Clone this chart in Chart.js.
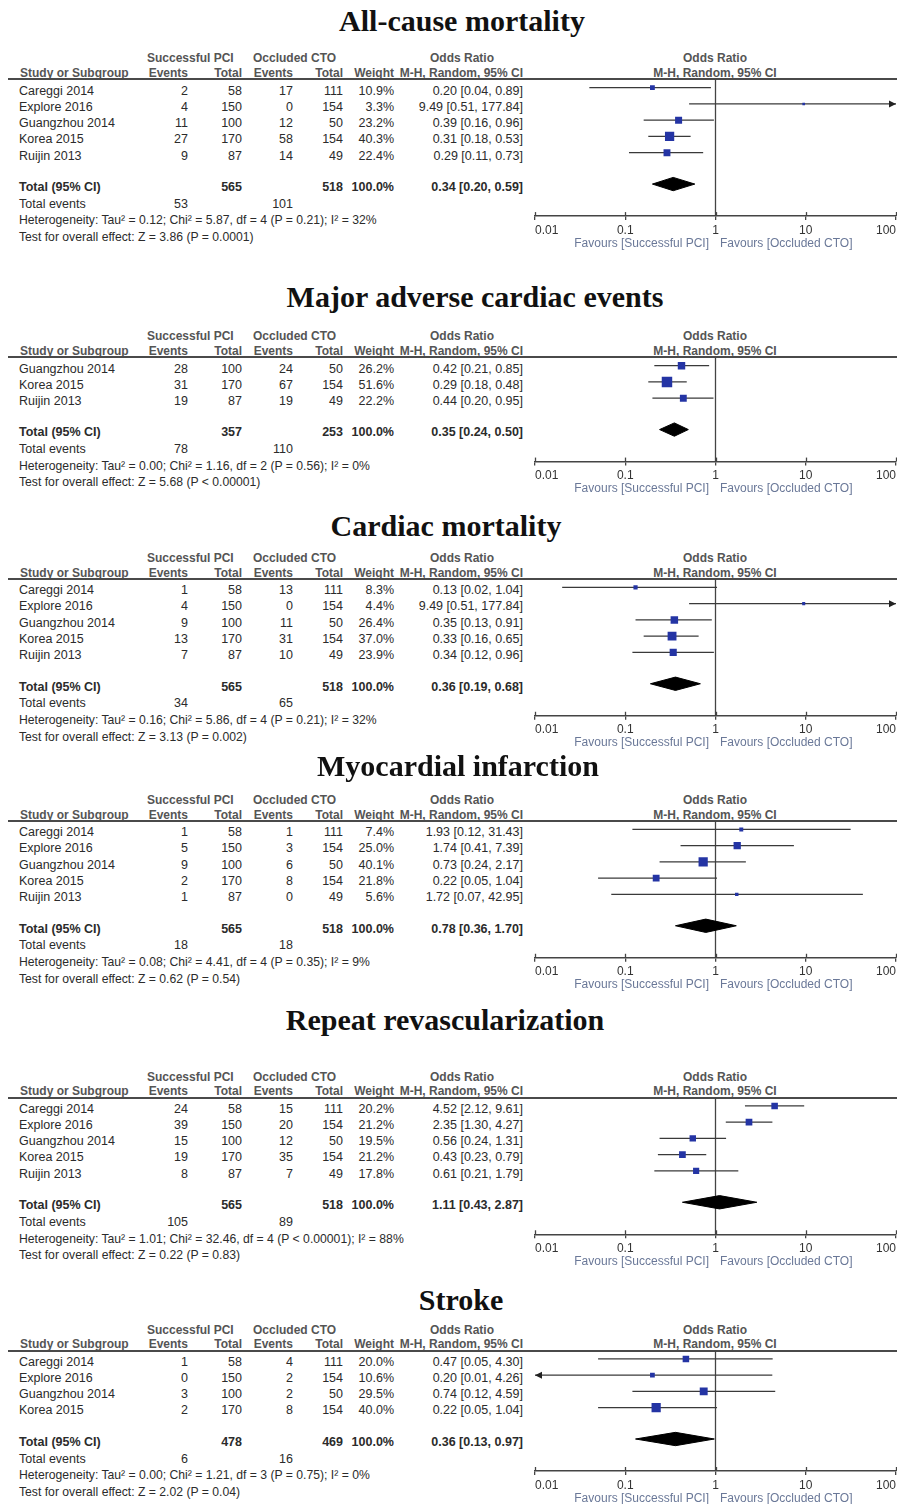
<!DOCTYPE html>
<html><head><meta charset="utf-8">
<script src="https://cdn.jsdelivr.net/npm/chart.js@4.4.1/dist/chart.umd.min.js"></script>
<style>
html,body{margin:0;padding:0;background:#fff;}
body{width:897px;height:1504px;position:relative;overflow:hidden;font-family:"Liberation Sans",Arial,sans-serif;}
.t{position:absolute;white-space:nowrap;font-size:12.5px;line-height:16px;height:16px;color:#2b2b2b;}
.h{font-weight:bold;color:#555;font-size:12px;}
.b{font-weight:bold;}
.s{font-size:12.2px;}
.fav{color:#6a7898;font-size:12px;}
.title{position:absolute;white-space:nowrap;font-family:"Liberation Serif","Times New Roman",serif;font-weight:bold;font-size:30px;line-height:34px;height:34px;color:#111;width:600px;text-align:center;}
.rule{position:absolute;left:8px;width:889px;height:2px;background:#4a4a4a;}
canvas{position:absolute;}
</style></head>
<body>
<script>
// ---------------- DATA ----------------
const titles = ["All-cause mortality","Major adverse cardiac events","Cardiac mortality","Myocardial infarction","Repeat revascularization","Stroke"];
const studies = [
  ["Careggi 2014","Explore 2016","Guangzhou 2014","Korea 2015","Ruijin 2013"],
  ["Guangzhou 2014","Korea 2015","Ruijin 2013"],
  ["Careggi 2014","Explore 2016","Guangzhou 2014","Korea 2015","Ruijin 2013"],
  ["Careggi 2014","Explore 2016","Guangzhou 2014","Korea 2015","Ruijin 2013"],
  ["Careggi 2014","Explore 2016","Guangzhou 2014","Korea 2015","Ruijin 2013"],
  ["Careggi 2014","Explore 2016","Guangzhou 2014","Korea 2015"]
];
const pciEvents = [[2,4,11,27,9],[28,31,19],[1,4,9,13,7],[1,5,9,2,1],[24,39,15,19,8],[1,0,3,2]];
const pciTotals = [[58,150,100,170,87],[100,170,87],[58,150,100,170,87],[58,150,100,170,87],[58,150,100,170,87],[58,150,100,170]];
const ctoEvents = [[17,0,12,58,14],[24,67,19],[13,0,11,31,10],[1,3,6,8,0],[15,20,12,35,7],[4,2,2,8]];
const ctoTotals = [[111,154,50,154,49],[50,154,49],[111,154,50,154,49],[111,154,50,154,49],[111,154,50,154,49],[111,154,50,154]];
const weights = [[10.9,3.3,23.2,40.3,22.4],[26.2,51.6,22.2],[8.3,4.4,26.4,37.0,23.9],[7.4,25.0,40.1,21.8,5.6],[20.2,21.2,19.5,21.2,17.8],[20.0,10.6,29.5,40.0]];
const orEst  = [[0.20,9.49,0.39,0.31,0.29],[0.42,0.29,0.44],[0.13,9.49,0.35,0.33,0.34],[1.93,1.74,0.73,0.22,1.72],[4.52,2.35,0.56,0.43,0.61],[0.47,0.20,0.74,0.22]];
const orLow  = [[0.04,0.51,0.16,0.18,0.11],[0.21,0.18,0.20],[0.02,0.51,0.13,0.16,0.12],[0.12,0.41,0.24,0.05,0.07],[2.12,1.30,0.24,0.23,0.21],[0.05,0.01,0.12,0.05]];
const orHigh = [[0.89,177.84,0.96,0.53,0.73],[0.85,0.48,0.95],[1.04,177.84,0.91,0.65,0.96],[31.43,7.39,2.17,1.04,42.95],[9.61,4.27,1.31,0.79,1.79],[4.30,4.26,4.59,1.04]];
const totalPci = [565,357,565,565,565,478];
const totalCto = [518,253,518,518,518,469];
const totalEst  = [0.34,0.35,0.36,0.78,1.11,0.36];
const totalLow  = [0.20,0.24,0.19,0.36,0.43,0.13];
const totalHigh = [0.59,0.50,0.68,1.70,2.87,0.97];
const eventsPci = [53,78,34,18,105,6];
const eventsCto = [101,110,65,18,89,16];
const heterogeneity = [
  "Heterogeneity: Tau² = 0.12; Chi² = 5.87, df = 4 (P = 0.21); I² = 32%",
  "Heterogeneity: Tau² = 0.00; Chi² = 1.16, df = 2 (P = 0.56); I² = 0%",
  "Heterogeneity: Tau² = 0.16; Chi² = 5.86, df = 4 (P = 0.21); I² = 32%",
  "Heterogeneity: Tau² = 0.08; Chi² = 4.41, df = 4 (P = 0.35); I² = 9%",
  "Heterogeneity: Tau² = 1.01; Chi² = 32.46, df = 4 (P < 0.00001); I² = 88%",
  "Heterogeneity: Tau² = 0.00; Chi² = 1.21, df = 3 (P = 0.75); I² = 0%"
];
const overallEffect = [
  "Test for overall effect: Z = 3.86 (P = 0.0001)",
  "Test for overall effect: Z = 5.68 (P < 0.00001)",
  "Test for overall effect: Z = 3.13 (P = 0.002)",
  "Test for overall effect: Z = 0.62 (P = 0.54)",
  "Test for overall effect: Z = 0.22 (P = 0.83)",
  "Test for overall effect: Z = 2.02 (P = 0.04)"
];
const tickValues = [0.01,0.1,1,10,100];
const tickLabels = ["0.01","0.1","1","10","100"];
const favoursLeft = "Favours [Successful PCI]";
const favoursRight = "Favours [Occluded CTO]";

// ---------------- LAYOUT ----------------
const panelLayout = [
  {L:79.3,  titleY:21,   titleX:462},
  {L:357.3, titleY:297,  titleX:475},
  {L:579,   titleY:526,  titleX:446},
  {L:821,   titleY:766,  titleX:458},
  {L:1097.5,titleY:1020, titleX:445},
  {L:1350.5,titleY:1300, titleX:461}
];
const ROW = 16.25;
const X = {name:19, ev1:188, tot1:242, ev2:293, tot2:343, wt:394, or:523};

function txt(s, x, cy, align, cls) {
  const d = document.createElement('div');
  d.className = 't' + (cls ? ' ' + cls : '');
  d.textContent = s;
  d.style.top = (cy - 8) + 'px';
  if (align === 'l') d.style.left = x + 'px';
  else if (align === 'r') d.style.right = (897 - x) + 'px';
  else { d.style.left = (x - 200) + 'px'; d.style.width = '400px'; d.style.textAlign = 'center'; }
  document.body.appendChild(d);
}
const f2 = v => v.toFixed(2);
const orText = (e, l, h) => f2(e) + ' [' + f2(l) + ', ' + f2(h) + ']';

const arrowPlugin = {
  id: 'forestExtras',
  afterDatasetsDraw(chart) {
    const info = chart.options.plugins.forestExtras;
    const xs = chart.scales.x, ys = chart.scales.y, ctx = chart.ctx;
    ctx.save();
    ctx.fillStyle = '#222';
    info.arrows.forEach(a => {
      const px = xs.getPixelForValue(a.x), py = ys.getPixelForValue(a.y);
      const dir = a.dir;
      ctx.beginPath();
      ctx.moveTo(px, py);
      ctx.lineTo(px - dir * 7, py - 3.5);
      ctx.lineTo(px - dir * 7, py + 3.5);
      ctx.closePath();
      ctx.fill();
    });
    // upward half of axis ticks
    ctx.strokeStyle = '#444';
    ctx.lineWidth = 1.3;
    const ay = chart.chartArea.bottom;
    tickValues.forEach(v => {
      const px = Math.round(xs.getPixelForValue(v)) + 0.5;
      ctx.beginPath();
      ctx.moveTo(px, ay - 4);
      ctx.lineTo(px, ay);
      ctx.stroke();
    });
    ctx.restore();
  }
};

panelLayout.forEach((p, k) => {
  const n = studies[k].length;
  const L = p.L;
  // title
  const t = document.createElement('div');
  t.className = 'title';
  t.textContent = titles[k];
  t.style.left = (p.titleX - 300) + 'px';
  t.style.top = (p.titleY - 17) + 'px';
  document.body.appendChild(t);
  // header
  txt('Successful PCI', 147, L - 21, 'l', 'h');
  txt('Occluded CTO', 253, L - 21, 'l', 'h');
  txt('Odds Ratio', 462, L - 21, 'c', 'h');
  txt('Odds Ratio', 715, L - 21, 'c', 'h');
  txt('Study or Subgroup', 20, L - 6.5, 'l', 'h');
  txt('Events', X.ev1, L - 6.5, 'r', 'h');
  txt('Total', X.tot1, L - 6.5, 'r', 'h');
  txt('Events', X.ev2, L - 6.5, 'r', 'h');
  txt('Total', X.tot2, L - 6.5, 'r', 'h');
  txt('Weight', X.wt, L - 6.5, 'r', 'h');
  txt('M-H, Random, 95% CI', X.or, L - 6.5, 'r', 'h');
  txt('M-H, Random, 95% CI', 715, L - 6.5, 'c', 'h');
  const rule = document.createElement('div');
  rule.className = 'rule';
  rule.style.top = (L - 1) + 'px';
  document.body.appendChild(rule);
  // rows
  for (let i = 0; i < n; i++) {
    const cy = L + 11.2 + i * ROW;
    txt(studies[k][i], X.name, cy, 'l');
    txt(String(pciEvents[k][i]), X.ev1, cy, 'r');
    txt(String(pciTotals[k][i]), X.tot1, cy, 'r');
    txt(String(ctoEvents[k][i]), X.ev2, cy, 'r');
    txt(String(ctoTotals[k][i]), X.tot2, cy, 'r');
    txt(weights[k][i].toFixed(1) + '%', X.wt, cy, 'r');
    txt(orText(orEst[k][i], orLow[k][i], orHigh[k][i]), X.or, cy, 'r');
  }
  const T = L + 11.2 + (n + 0.93) * ROW;
  txt('Total (95% CI)', X.name, T, 'l', 'b');
  txt(String(totalPci[k]), X.tot1, T, 'r', 'b');
  txt(String(totalCto[k]), X.tot2, T, 'r', 'b');
  txt('100.0%', X.wt, T, 'r', 'b');
  txt(orText(totalEst[k], totalLow[k], totalHigh[k]), X.or, T, 'r', 'b');
  txt('Total events', X.name, T + 16.8, 'l');
  txt(String(eventsPci[k]), X.ev1, T + 16.8, 'r');
  txt(String(eventsCto[k]), X.ev2, T + 16.8, 'r');
  txt(heterogeneity[k], X.name, T + 33.5, 'l', 's');
  txt(overallEffect[k], X.name, T + 50, 'l', 's');

  // chart
  const yMin = -8.4 / ROW;
  const yMax = n + 2.9;
  const axisY = L + 8.4 + yMax * ROW;
  const canvasTop = Math.floor(L) - 3;
  const xAxisH = 22;
  const canvasH = Math.ceil(axisY - canvasTop) + xAxisH + 2;
  const padTop = L - canvasTop;
  const padBottom = canvasH - xAxisH - (axisY - canvasTop);
  const cv = document.createElement('canvas');
  cv.width = 397; cv.height = canvasH;
  cv.style.left = '500px'; cv.style.top = canvasTop + 'px';
  cv.style.width = '397px'; cv.style.height = canvasH + 'px';
  document.body.appendChild(cv);

  const xMin = tickValues[0], xMax = tickValues[tickValues.length - 1];
  const datasets = [];
  // squares
  datasets.push({
    data: orEst[k].map((v, i) => ({x: v, y: i})),
    showLine: false, pointStyle: 'rect',
    pointRadius: weights[k].map(w => Math.sqrt(w) * 1.03),
    backgroundColor: '#2434a4', borderColor: '#2434a4', borderWidth: 0, order: 0
  });
  // diamond
  const Ty = n + 0.93;
  datasets.push({
    data: [{x: totalLow[k], y: Ty}, {x: totalEst[k], y: Ty - 0.41}, {x: totalHigh[k], y: Ty}, {x: totalEst[k], y: Ty + 0.41}, {x: totalLow[k], y: Ty}],
    showLine: true, fill: 'shape', backgroundColor: '#000', borderColor: '#000', borderWidth: 1, pointRadius: 0, tension: 0, order: 1
  });
  // CI lines
  const arrows = [];
  for (let i = 0; i < n; i++) {
    const lo = Math.max(orLow[k][i], xMin), hi = Math.min(orHigh[k][i], xMax);
    if (orLow[k][i] <= xMin) arrows.push({x: xMin, y: i, dir: -1});
    if (orHigh[k][i] >= xMax) arrows.push({x: xMax, y: i, dir: 1});
    datasets.push({
      data: [{x: lo, y: i}, {x: hi, y: i}],
      showLine: true, borderColor: '#3a3a3a', borderWidth: 1.3, pointRadius: 0, order: 2
    });
  }
  // line of no effect
  datasets.push({
    data: [{x: 1, y: yMin}, {x: 1, y: yMax}],
    showLine: true, borderColor: '#444', borderWidth: 1.3, pointRadius: 0, order: 3
  });

  new Chart(cv, {
    type: 'scatter',
    data: {datasets},
    plugins: [arrowPlugin],
    options: {
      responsive: false, animation: false, devicePixelRatio: 1, events: [],
      layout: {autoPadding: false, padding: {left: 35, right: 1, top: padTop, bottom: padBottom}},
      plugins: {legend: {display: false}, tooltip: {enabled: false}, forestExtras: {arrows}},
      scales: {
        x: {
          type: 'logarithmic', min: xMin, max: xMax, position: 'bottom',
          afterBuildTicks: s => { s.ticks = tickValues.map(v => ({value: v})); },
          afterFit: s => { s.height = xAxisH; s.paddingLeft = 0; s.paddingRight = 0; },
          ticks: {autoSkip: false, maxRotation: 0, minRotation: 0, align: 'inner', padding: 3, color: '#333',
                  font: {family: 'Liberation Sans', size: 12}, callback: (v, i) => tickLabels[i]},
          grid: {drawOnChartArea: false, drawTicks: true, tickLength: 4, color: '#444', lineWidth: 1.3},
          border: {display: true, color: '#444', width: 1.5}
        },
        y: {type: 'linear', reverse: true, min: yMin, max: yMax, display: false}
      }
    }
  });

  txt(favoursLeft, 709, axisY + 26.5, 'r', 'fav');
  txt(favoursRight, 720, axisY + 26.5, 'l', 'fav');
});
</script>
</body></html>
